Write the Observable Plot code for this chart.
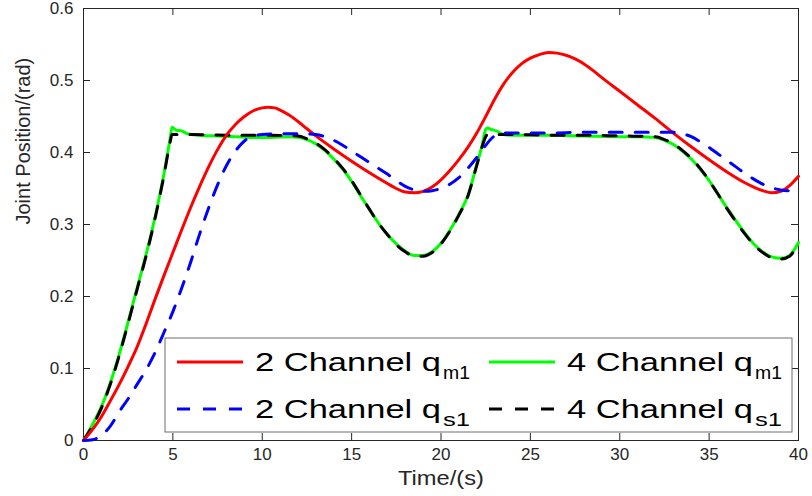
<!DOCTYPE html>
<html><head><meta charset="utf-8">
<script src="https://cdn.jsdelivr.net/npm/d3@7"></script>
<script src="https://cdn.jsdelivr.net/npm/@observablehq/plot@0.6"></script>
<style>
html,body{margin:0;padding:0;background:#fff;}
#chart{width:812px;height:496px;}
</style></head><body><div id="chart"></div>
<script>
// ---- axis ticks ----
const xTicks = [0, 5, 10, 15, 20, 25, 30, 35, 40];
const xTickLabels = ["0", "5", "10", "15", "20", "25", "30", "35", "40"];
const yTicks = [0, 0.1, 0.2, 0.3, 0.4, 0.5, 0.6];
const yTickLabels = ["0", "0.1", "0.2", "0.3", "0.4", "0.5", "0.6"];
const xLabel = "Time/(s)";
const yLabel = "Joint Position/(rad)";

// ---- series: 2 Channel q_m1 (red) ----
const red_t = [0,0.5,1,1.5,2,2.5,3,3.5,4,4.5,5,5.5,6,6.5,7,7.5,8,8.5,9,9.5,10,10.3,10.7,11,11.5,12,12.5,13,14,15,16,17,17.5,18,18.5,19,19.5,20,20.5,21,21.5,22,22.5,23,23.5,24,24.5,25,25.5,26,26.5,27,27.5,28,28.5,29,30,31,32,33,34,35,36,37,37.5,38,38.5,39,39.5,40];
const red_v = [0,0.015,0.033,0.055,0.078,0.103,0.13,0.162,0.196,0.229,0.261,0.293,0.324,0.353,0.38,0.404,0.424,0.439,0.45,0.458,0.462,0.463,0.462,0.459,0.452,0.443,0.433,0.423,0.405,0.388,0.372,0.357,0.35,0.345,0.344,0.346,0.352,0.362,0.375,0.39,0.407,0.427,0.45,0.474,0.495,0.511,0.523,0.531,0.536,0.539,0.538,0.535,0.53,0.523,0.514,0.504,0.485,0.466,0.447,0.427,0.408,0.39,0.373,0.358,0.352,0.347,0.344,0.346,0.354,0.367];

// ---- series: 2 Channel q_s1 (blue dashed) ----
const blue_t = [0,0.5,1,1.5,2,2.5,3,3.5,4,4.5,5,5.5,6,6.5,7,7.5,8,8.5,9,9.5,10,11,12,13,13.5,14,14.5,15,15.5,16,16.5,17,17.5,18,18.5,19,19.5,20,20.5,21,21.5,22,22.5,23,23.5,24,26,28,30,32,33,33.5,34,34.5,35,35.5,36,36.5,37,37.5,38,38.5,39,39.5,40];
const blue_v = [0,0.001,0.007,0.02,0.04,0.058,0.078,0.098,0.122,0.15,0.179,0.212,0.248,0.287,0.323,0.355,0.382,0.402,0.416,0.423,0.425,0.426,0.426,0.425,0.422,0.417,0.41,0.402,0.394,0.386,0.378,0.37,0.361,0.353,0.348,0.346,0.347,0.35,0.356,0.365,0.378,0.393,0.41,0.423,0.427,0.427,0.427,0.428,0.428,0.428,0.428,0.426,0.422,0.415,0.407,0.398,0.389,0.38,0.371,0.363,0.356,0.351,0.348,0.347,0.348];

// ---- series: 4 Channel q_m1 (green) ----
const green_t = [0,0.5,1,1.5,2,2.5,3,3.5,4,4.5,4.85,4.95,5.2,5.5,5.8,6.5,7.5,8.5,9.5,10.5,11.5,12,12.5,13,13.5,14,14.5,15,15.5,16,16.5,17,17.5,18,18.5,19,19.5,20,20.5,21,21.5,22,22.3,22.5,22.6,22.8,23.1,23.5,24,26,28,30,31,32,32.5,33,33.5,34,34.5,35,35.5,36,36.5,37,37.5,38,38.5,39,39.5,40];
const green_v = [0,0.022,0.047,0.08,0.12,0.165,0.212,0.258,0.31,0.37,0.42,0.435,0.431,0.43,0.426,0.424,0.423,0.422,0.421,0.421,0.422,0.421,0.418,0.412,0.403,0.391,0.377,0.36,0.34,0.321,0.302,0.286,0.273,0.263,0.257,0.257,0.262,0.274,0.292,0.314,0.34,0.383,0.41,0.432,0.434,0.432,0.43,0.425,0.424,0.424,0.423,0.422,0.422,0.421,0.417,0.411,0.402,0.391,0.377,0.361,0.342,0.323,0.305,0.288,0.273,0.262,0.255,0.253,0.257,0.275];

// ---- series: 4 Channel q_s1 (black dashed) ----
const black_t = [0,0.5,1,1.5,2,2.5,3,3.5,4,4.5,4.85,4.95,6,8,10,12,12.5,13,13.5,14,14.5,15,15.5,16,16.5,17,17.5,18,18.5,19,19.5,20,20.5,21,21.5,22,22.3,22.5,22.6,24,26,28,30,32,32.5,33,33.5,34,34.5,35,35.5,36,36.5,37,37.5,38,38.5,39,39.5,40];
const black_v = [0,0.02,0.045,0.078,0.118,0.163,0.21,0.256,0.308,0.368,0.415,0.425,0.425,0.424,0.424,0.423,0.419,0.413,0.404,0.392,0.378,0.361,0.341,0.321,0.302,0.286,0.272,0.262,0.256,0.256,0.261,0.273,0.291,0.313,0.339,0.382,0.408,0.422,0.425,0.425,0.424,0.424,0.423,0.422,0.418,0.412,0.403,0.392,0.378,0.361,0.342,0.322,0.304,0.287,0.272,0.261,0.254,0.252,0.256,0.274];

// ---- legend ----
const legendMain = ["2 Channel q", "4 Channel q", "2 Channel q", "4 Channel q"];
const legendSub = ["m1", "m1", "s1", "s1"];
const legendColor = ["#ff0000", "#00ff00", "#0000ff", "#000000"];
const legendDash = [null, null, "13,13", "13,13"];

function rows(ts, vs) { return ts.map((t, i) => ({t, v: vs[i]})); }
const redData = rows(red_t, red_v);
const blueData = rows(blue_t, blue_v);
const greenData = rows(green_t, green_v);
const blackData = rows(black_t, black_v);

const W = 812, H = 496, mL = 83, mR = 14, mT = 8, mB = 56;
const axisColor = "#262626";
const tick = 7;
const pw = W - mL - mR, ph = H - mT - mB;
const FONT = "'Liberation Sans', Arial, sans-serif";

const chart = Plot.plot({
  width: W, height: H,
  marginLeft: mL, marginRight: mR, marginTop: mT, marginBottom: mB,
  x: {domain: [0, 40]},
  y: {domain: [0, 0.6]},
  style: {fontFamily: FONT, fontSize: "17px", color: axisColor, background: "white"},
  marks: [
    Plot.frame({stroke: axisColor, strokeWidth: 1}),
    Plot.tickX(xTicks, {x: d => d, stroke: axisColor, insetTop: ph - tick}),
    Plot.tickX(xTicks, {x: d => d, stroke: axisColor, insetBottom: ph - tick}),
    Plot.tickY(yTicks, {y: d => d, stroke: axisColor, insetRight: pw - tick}),
    Plot.tickY(yTicks, {y: d => d, stroke: axisColor, insetLeft: pw - tick}),
    Plot.axisX(xTicks, {anchor: "bottom", tickSize: 0, tickPadding: 7, label: null,
      tickFormat: d => xTickLabels[xTicks.indexOf(d)], fill: axisColor}),
    Plot.axisY(yTicks, {anchor: "left", tickSize: 0, tickPadding: 10, label: null,
      tickFormat: d => yTickLabels[yTicks.indexOf(d)], fill: axisColor}),
    Plot.text([xLabel], {frameAnchor: "bottom", dy: 44, fontSize: 21, fill: axisColor, className: "xlab"}),
    Plot.text([yLabel], {frameAnchor: "left", rotate: -90, dx: -60, fontSize: 20, fill: axisColor}),
    Plot.line(greenData, {x: "t", y: "v", stroke: "#00ff00", strokeWidth: 3, curve: "monotone-x"}),
    Plot.line(blackData, {x: "t", y: "v", stroke: "#000000", strokeWidth: 3, strokeDasharray: "13,13", curve: "monotone-x"}),
    Plot.line(redData, {x: "t", y: "v", stroke: "#ff0000", strokeWidth: 3, curve: "monotone-x"}),
    Plot.line(blueData, {x: "t", y: "v", stroke: "#0000ff", strokeWidth: 3, strokeDasharray: "13,13", curve: "monotone-x"})
  ]
});
document.getElementById("chart").appendChild(chart);

// slight horizontal widening of the x label, as in the reference
d3.select(chart).selectAll(".xlab text").attr("textLength", 86).attr("lengthAdjust", "spacingAndGlyphs");

// legend drawn inside the axes (lower right), MATLAB style
const svg = d3.select(chart);
const box = {x: 165, y: 338, w: 627, h: 94};
const lg = svg.append("g").attr("font-family", FONT).attr("text-anchor", "start");
lg.append("rect").attr("x", box.x).attr("y", box.y).attr("width", box.w).attr("height", box.h)
  .attr("fill", "white").attr("stroke", "#6e6e6e").attr("stroke-width", 1);
const colX = [box.x + 12, box.x + 324];
const rowY = [box.y + 24, box.y + 71];
legendMain.forEach((lab, i) => {
  const cx = colX[i % 2], cy = rowY[Math.floor(i / 2)];
  const ln = lg.append("line").attr("x1", cx).attr("x2", cx + 66).attr("y1", cy).attr("y2", cy)
    .attr("stroke", legendColor[i]).attr("stroke-width", 3);
  if (legendDash[i]) ln.attr("stroke-dasharray", legendDash[i]);
  lg.append("text").attr("x", cx + 78).attr("y", cy + 9).attr("font-size", 26).attr("fill", "#000")
    .attr("textLength", 186).attr("lengthAdjust", "spacingAndGlyphs").text(lab);
  lg.append("text").attr("x", cx + 266).attr("y", cy + 17).attr("font-size", 19).attr("fill", "#000")
    .attr("textLength", 27).attr("lengthAdjust", "spacingAndGlyphs").text(legendSub[i]);
});
</script>
</body></html>
